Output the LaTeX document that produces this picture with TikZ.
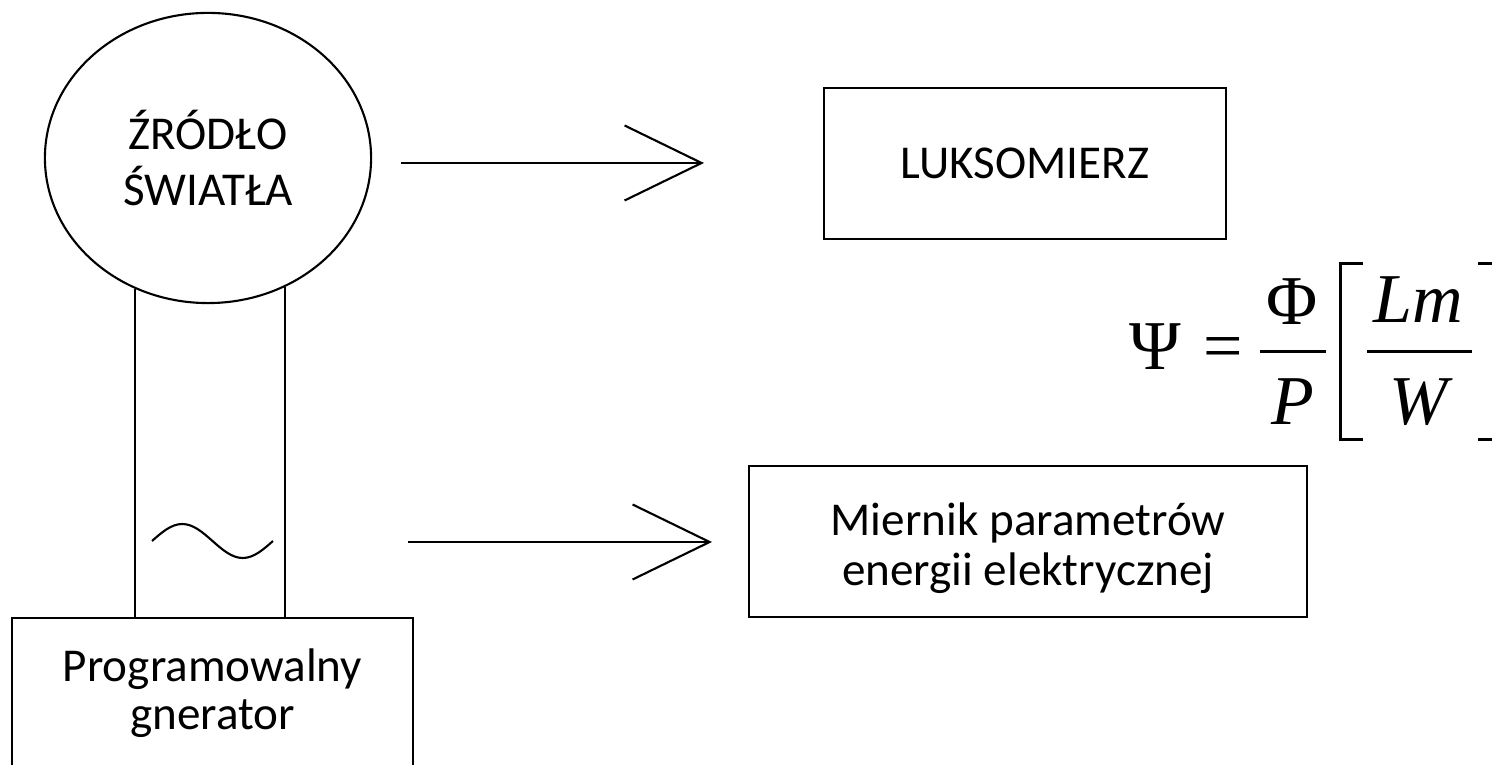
\documentclass[tikz,border=0pt]{standalone}
\usepackage{fontspec}
\setmainfont{Carlito}
\newfontfamily\formulafont{Liberation Serif}
\usetikzlibrary{shapes.geometric, arrows.meta}
\tikzstyle{source} = [ellipse, draw=black, line width=0.6pt, minimum width=3.26cm, minimum height=2.9cm, inner sep=0pt, align=center, font=\fontsize{13.4}{16.2}\selectfont]
\tikzstyle{device} = [rectangle, draw=black, line width=0.6pt, inner sep=0pt, align=center, font=\fontsize{13.4}{14.2}\selectfont]
\tikzstyle{arrow} = [line width=0.6pt, -{Straight Barb[length=7.7mm, width=7.5mm]}]
\tikzstyle{sym} = [inner sep=0pt, anchor=base, font=\formulafont\fontsize{19.9}{20}\selectfont]
\tikzstyle{fracbar} = [line width=0.85pt]

\begin{document}
\begin{tikzpicture}[x=0.01cm, y=-0.01cm]
\useasboundingbox (0,0) rectangle (1492,765);

\node (src) [source] at (208,158) {ŹRÓDŁO\\ŚWIATŁA};
\node (gen) [device, minimum width=4.01cm, minimum height=1.5cm] at (212.5,693) {Programowalny\\[-0.5pt]gnerator};
\node (lux) [device, minimum width=4.02cm, minimum height=1.51cm] at (1025,163.5) {LUKSOMIERZ};
\node (meter) [device, minimum width=5.58cm, minimum height=1.51cm, text height=0.97cm, text depth=0.1cm] at (1028,541.5) {Miernik parametrów\\energii elektrycznej};

\coordinate (a1s) at (401,163);
\coordinate (a1e) at (704,163);
\coordinate (a2s) at (408,542);
\coordinate (a2e) at (712,542);

%%% formula %%%%%%%%%%%%%%%%%%%%%%%
\node (psi) [sym] at (1155,370) {Ψ};
\node (eq) [sym] at (1223,370) {=};
\node (phi) [sym] at (1292,325) {Φ};
\node (pp) [sym] at (1293,425) {\itshape P};
\node (lm) [sym] at (1418,323) {\itshape Lm};
\node (ww) [sym] at (1419,425) {\itshape W};
\draw [fracbar] (1260,352) -- (1326,352);
\draw [fracbar] (1367,352) -- (1472,352);
\draw [fracbar] (1363,264) -- (1340,264) -- (1340,440) -- (1363,440);
\draw [fracbar] (1478,264) -- (1501,264) -- (1501,440) -- (1478,440);

%%% drawing %%%%%%%%%%%%%%%%%%%%%%%
\draw [line width=0.6pt] (src.241) -- (src.241 |- gen.north);
\draw [line width=0.6pt] (src.301.6) -- (src.301.6 |- gen.north);
\draw [line width=0.6pt] (152,541) sin (182.25,524) cos (212.5,541) sin (242.75,558) cos (273,541);
\draw [arrow] (a1s) -- (a1e);
\draw [arrow] (a2s) -- (a2e);
\end{tikzpicture}
\end{document}
